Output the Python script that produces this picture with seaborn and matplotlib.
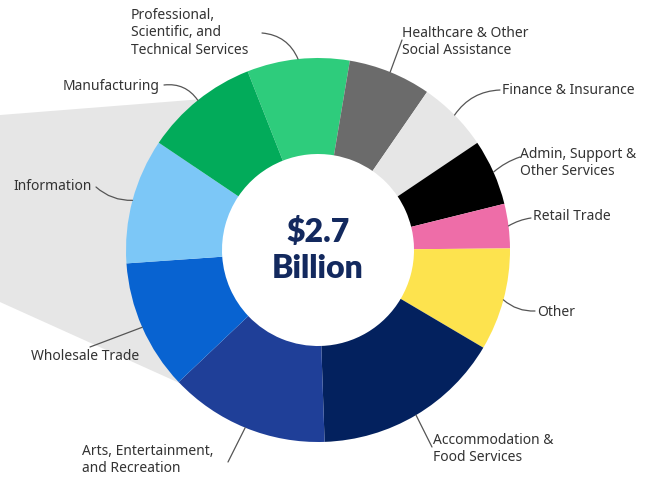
import numpy as np
import matplotlib
matplotlib.use("Agg")
import matplotlib.pyplot as plt
import seaborn as sns

sns.set_theme(style="white")
plt.rcParams["font.family"] = ["Noto Sans", "DejaVu Sans"]

# Spending by industry, $ millions (total about $2.7 billion), clockwise from top
industries = [
    "Professional,\nScientific, and\nTechnical Services",
    "Healthcare & Other\nSocial Assistance",
    "Finance & Insurance",
    "Admin, Support &\nOther Services",
    "Retail Trade",
    "Other",
    "Accommodation &\nFood Services",
    "Arts, Entertainment,\nand Recreation",
    "Wholesale Trade",
    "Information",
    "Manufacturing",
]
amounts = [233, 188, 161, 150, 101, 233, 431, 364, 296, 285, 259]
colors = [
    "#2ECC7C", "#6B6B6B", "#E6E6E6", "#000000", "#EE6DA8", "#FDE34E",
    "#03215E", "#1F3F98", "#0863D1", "#7CC7F7", "#02AB5A",
]
total_label = "$2.7\nBillion"

START = 111.5  # degrees, where the first wedge begins

# label anchor (left edge, vertical centre) and start of the leader, in pixels
label_pos = [(131, 33), (402, 42), (502, 90), (520, 163), (533, 217), (537, 312),
             (433, 449), (82, 460), (31, 356), (13, 186), (63, 86)]
leader_from = [(262, 33), (402, 40), (500, 90), (520, 157), (531, 218), (535, 311),
               (432, 447), (228, 462), (90, 347), (96, 187), (164, 85)]
leader_rad = [-0.3, 0.0, 0.25, 0.1, 0.1, -0.2, 0.0, 0.0, 0.0, 0.2, -0.3]

W, H = 660, 480
CX, CY, R = 318, 250, 192


def to_data(px, py):
    return (px - CX) / R, (CY - py) / R


fig = plt.figure(figsize=(6.6, 4.8), dpi=100)
ax = fig.add_axes([0, 0, 1, 1])

# light grey call-out band behind the left side of the ring
fracs = np.array(amounts) / sum(amounts)
edges = START - 360 * np.concatenate([[0], np.cumsum(fracs)])
mids = (edges[:-1] + edges[1:]) / 2
a_top = np.radians(128.3)
a_bot = np.radians(223.9)
xl = -CX / R
band = plt.Polygon([(xl, 0.703), (np.cos(a_top), np.sin(a_top)),
                    (np.cos(a_bot), np.sin(a_bot)), (xl, -0.271)],
                   closed=True, facecolor="#E6E6E6", edgecolor="none", zorder=0)
ax.add_patch(band)

ax.pie(amounts, colors=colors, startangle=START, counterclock=False,
       radius=1.0, wedgeprops=dict(width=0.5, linewidth=0),
       center=(0, 0), frame=False)
ax.set_xlim(-CX / R, (W - CX) / R)
ax.set_ylim((CY - H) / R, CY / R)
ax.set_aspect("equal")
ax.axis("off")

for name, mid, (lx, ly), (sx, sy), rad in zip(industries, mids, label_pos,
                                               leader_from, leader_rad):
    tx, ty = to_data(lx, ly)
    ax.text(tx, ty, name, ha="left", va="center", fontsize=10,
            color="#333333", linespacing=1.2, zorder=5)
    a = np.radians(mid)
    ax.annotate("", xy=(np.cos(a), np.sin(a)), xytext=to_data(sx, sy),
                arrowprops=dict(arrowstyle="-", color="#555555", lw=0.9,
                                connectionstyle=f"arc3,rad={rad}",
                                shrinkA=0, shrinkB=0), zorder=4)

top, bottom = total_label.split("\n")
for txt, py in ((top, 232), (bottom, 268)):
    ax.text(*to_data(318, py), txt, ha="center", va="center", fontsize=23,
            fontweight="heavy", family=["Lato", "DejaVu Sans"], color="#13295E")

fig.savefig("out.png", dpi=100, facecolor="white")
